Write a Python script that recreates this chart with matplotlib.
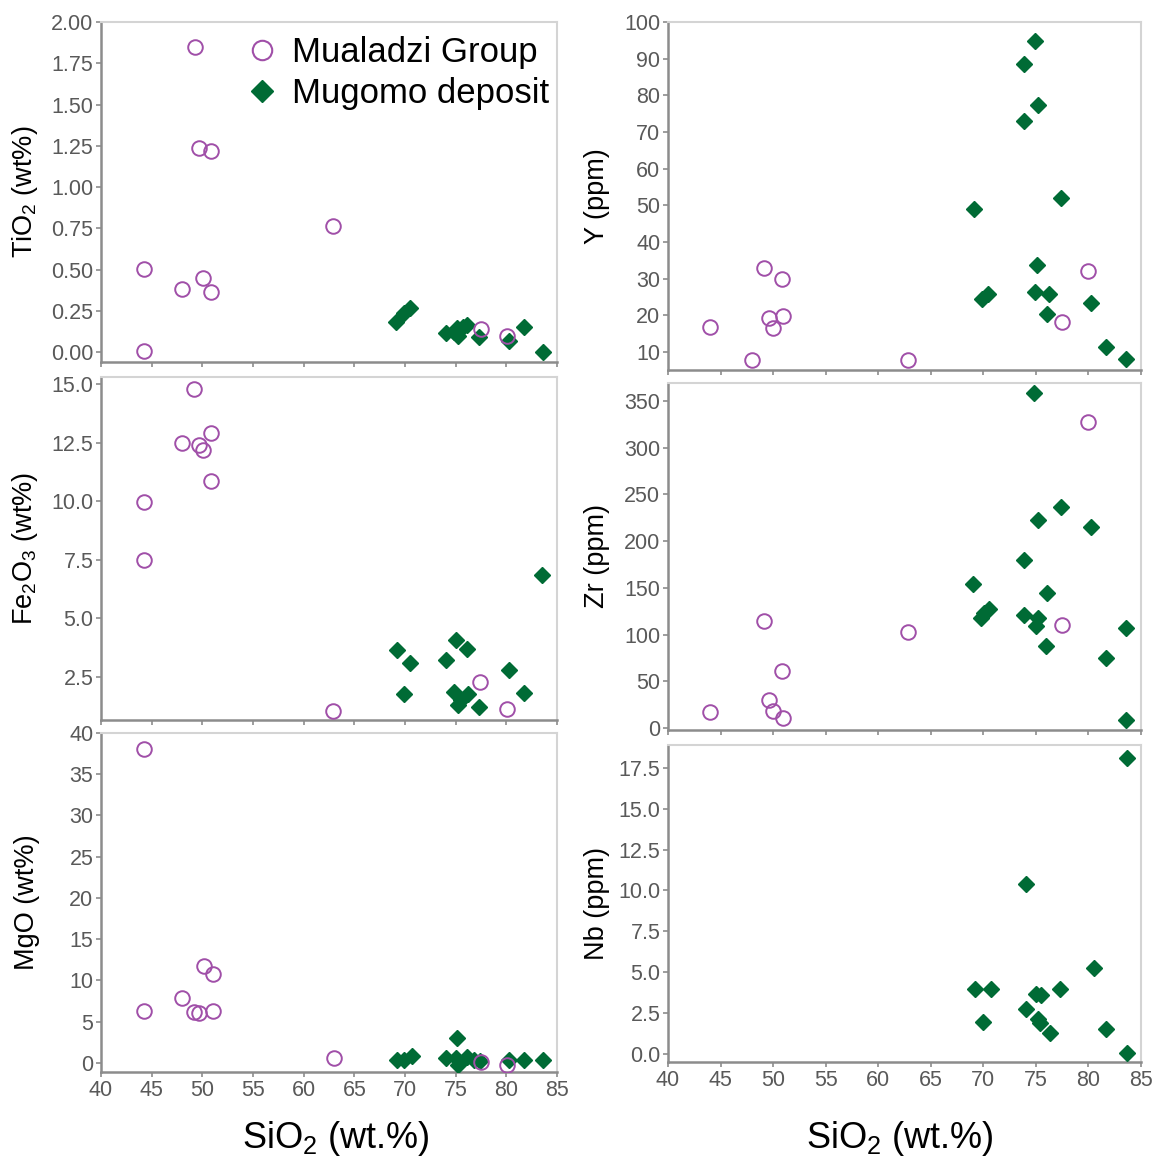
import matplotlib.pyplot as plt
from matplotlib.lines import Line2D

plt.rcParams['font.family'] = ['Liberation Sans', 'DejaVu Sans']
plt.rcParams['mathtext.fontset'] = 'custom'
plt.rcParams['mathtext.rm'] = 'Liberation Sans'

purple = '#a04fa8'
green = '#006b35'

# TiO2
tio2_mua_x = [49.3, 49.7, 50.9, 62.9, 44.2, 48.0, 50.1, 50.9, 44.2, 77.5, 80.1]
tio2_mua_y = [1.85, 1.234, 1.218, 0.766, 0.506, 0.381, 0.448, 0.363, 0.006, 0.14, 0.099]
tio2_mug_x = [69.1, 69.9, 70.5, 74.0, 74.8, 75.1, 75.2, 75.7, 76.1, 77.3, 80.3, 81.7, 83.6]
tio2_mug_y = [0.18, 0.236, 0.266, 0.115, 0.12, 0.145, 0.095, 0.15, 0.165, 0.09, 0.065, 0.15, 0.0]

# Fe2O3
fe_mua_x = [49.2, 48.0, 49.7, 50.1, 50.9, 50.9, 44.2, 44.2, 62.9, 77.4, 80.1]
fe_mua_y = [14.8, 12.5, 12.4, 12.2, 12.9, 10.85, 9.95, 7.5, 1.05, 2.3, 1.15]
fe_mug_x = [69.2, 70.5, 69.9, 74.0, 75.0, 76.1, 74.8, 76.2, 75.2, 75.5, 77.3, 80.3, 81.7, 83.5]
fe_mug_y = [3.64, 3.11, 1.75, 3.24, 4.07, 3.68, 1.86, 1.75, 1.29, 1.5, 1.22, 2.78, 1.82, 6.87]

# MgO
mg_mua_x = [44.2, 44.2, 48.0, 50.2, 51.1, 49.2, 49.7, 51.1, 63.0, 77.5, 80.1]
mg_mua_y = [38.1, 6.33, 7.86, 11.8, 10.8, 6.13, 6.1, 6.3, 0.6, 0.1, -0.2]
mg_mug_x = [69.2, 69.9, 70.7, 74.0, 75.1, 75.2, 75.0, 76.1, 76.8, 77.4, 80.3, 81.7, 83.6]
mg_mug_y = [0.4, 0.4, 0.8, 0.6, 3.0, -0.2, 0.6, 0.7, 0.3, 0.2, 0.4, 0.3, 0.4]

# Y
y_mua_x = [44.0, 47.95, 49.1, 49.6, 50.0, 50.8, 50.9, 62.8, 77.5, 80.0]
y_mua_y = [16.8, 7.7, 33.0, 19.3, 16.5, 30.0, 19.9, 7.7, 18.1, 32.0]
y_mug_x = [69.1, 69.9, 70.4, 73.9, 73.9, 74.9, 75.2, 75.1, 74.9, 76.2, 76.1, 77.4, 80.2, 81.7, 83.6]
y_mug_y = [48.9, 24.5, 25.8, 88.5, 73.1, 94.8, 77.5, 33.8, 26.3, 25.9, 20.3, 51.9, 23.5, 11.5, 8.1]

# Zr
zr_mua_x = [44.0, 49.1, 49.6, 50.0, 50.8, 50.9, 62.8, 77.5, 80.0]
zr_mua_y = [17, 115, 30, 18, 61.6, 10.7, 102.5, 110, 327.5]
zr_mug_x = [69.0, 69.8, 70.1, 70.5, 73.9, 74.8, 73.9, 75.2, 75.0, 75.2, 76.1, 76.0, 77.4, 80.2, 81.7, 83.6, 83.6]
zr_mug_y = [154, 117.5, 123, 127, 180, 358.5, 121, 117.5, 109, 222, 145, 88, 236, 215, 74.8, 107.5, 8.2]

# Nb
nb_mug_x = [83.7, 74.1, 80.5, 69.2, 70.7, 77.3, 75.0, 75.5, 74.1, 75.2, 75.4, 69.96, 76.3, 81.7, 83.7]
nb_mug_y = [18.1, 10.4, 5.25, 3.98, 3.98, 3.98, 3.66, 3.57, 2.74, 2.12, 1.88, 1.94, 1.27, 1.51, 0.04]

fig = plt.figure(figsize=(11.61, 11.59), dpi=100)

W, H = 1161.0, 1159.0
def add_ax(left, top, right, bottom):
    return fig.add_axes([left / W, 1 - bottom / H, (right - left) / W, (bottom - top) / H])

panels = [
    # (box px, mua, mug, ylim, yticks, fmt, label)
    ((101, 22, 557, 362), (tio2_mua_x, tio2_mua_y), (tio2_mug_x, tio2_mug_y), (-0.06, 2.0),
     [0, 0.25, 0.5, 0.75, 1.0, 1.25, 1.5, 1.75, 2.0], '{:.2f}', r'TiO$_\mathrm{2}$ (wt%)'),
    ((101, 377, 557, 720), (fe_mua_x, fe_mua_y), (fe_mug_x, fe_mug_y), (0.66, 15.3),
     [2.5, 5, 7.5, 10, 12.5, 15], '{:.1f}', r'Fe$_\mathrm{2}$O$_\mathrm{3}$ (wt%)'),
    ((101, 733, 557, 1072), (mg_mua_x, mg_mua_y), (mg_mug_x, mg_mug_y), (-1.1, 40),
     [0, 5, 10, 15, 20, 25, 30, 35, 40], '{:.0f}', 'MgO (wt%)'),
    ((668, 22, 1141, 370), (y_mua_x, y_mua_y), (y_mug_x, y_mug_y), (5.1, 100),
     list(range(10, 101, 10)), '{:.0f}', 'Y (ppm)'),
    ((668, 383, 1141, 730), (zr_mua_x, zr_mua_y), (zr_mug_x, zr_mug_y), (-2, 369),
     list(range(0, 351, 50)), '{:.0f}', 'Zr (ppm)'),
    ((668, 745, 1141, 1062), None, (nb_mug_x, nb_mug_y), (-0.5, 18.9),
     [0, 2.5, 5, 7.5, 10, 12.5, 15, 17.5], '{:.1f}', 'Nb (ppm)'),
]

axes = []
for i, (box, mua, mug, ylim, yt, fmt, lab) in enumerate(panels):
    ax = add_ax(*box)
    axes.append(ax)
    ax.plot(mug[0], mug[1], 'D', ms=8.5, color=green, mec=green, zorder=3)
    if mua is not None:
        ax.plot(mua[0], mua[1], 'o', ms=10.5, mfc='none', mec=purple, mew=1.4, zorder=4)
    ax.set_xlim(40, 85)
    ax.set_ylim(*ylim)
    ax.set_xticks(range(40, 86, 5))
    ax.set_yticks(yt)
    ax.set_yticklabels([fmt.format(v) for v in yt])
    for s in ['top', 'right']:
        ax.spines[s].set_color('#d4d4d4')
        ax.spines[s].set_linewidth(1.5)
    for s in ['left', 'bottom']:
        ax.spines[s].set_color('#8c8c8c')
        ax.spines[s].set_linewidth(1.8)
    ax.tick_params(direction='out', length=3.5, width=1.2, color='#8c8c8c',
                   labelsize=15.5, labelcolor='#595959', pad=2)
    if i not in (2, 5):
        ax.tick_params(axis='x', labelbottom=False)
    ax.set_ylabel(lab, fontsize=19.5, color='black')

for ax in axes[:3]:
    ax.yaxis.set_label_coords(-0.134, 0.5)
for ax in axes[3:]:
    ax.yaxis.set_label_coords(-0.123, 0.5)

handles = [Line2D([], [], ls='none', marker='o', ms=14, mfc='none', mec=purple, mew=1.5),
           Line2D([], [], ls='none', marker='D', ms=11, color=green)]
axes[0].legend(handles, ['Mualadzi Group', 'Mugomo deposit'], loc='upper right',
               bbox_to_anchor=(1.028, 1.02), frameon=False, fontsize=25,
               handletextpad=0.35, labelspacing=0.22, handlelength=1.0, borderaxespad=0.2)

fig.text(336 / W, 1 - 1138 / H, r'SiO$_\mathrm{2}$ (wt.%)', fontsize=26, ha='center', va='center')
fig.text(900 / W, 1 - 1138 / H, r'SiO$_\mathrm{2}$ (wt.%)', fontsize=26, ha='center', va='center')

fig.savefig('out.png', dpi=100)
